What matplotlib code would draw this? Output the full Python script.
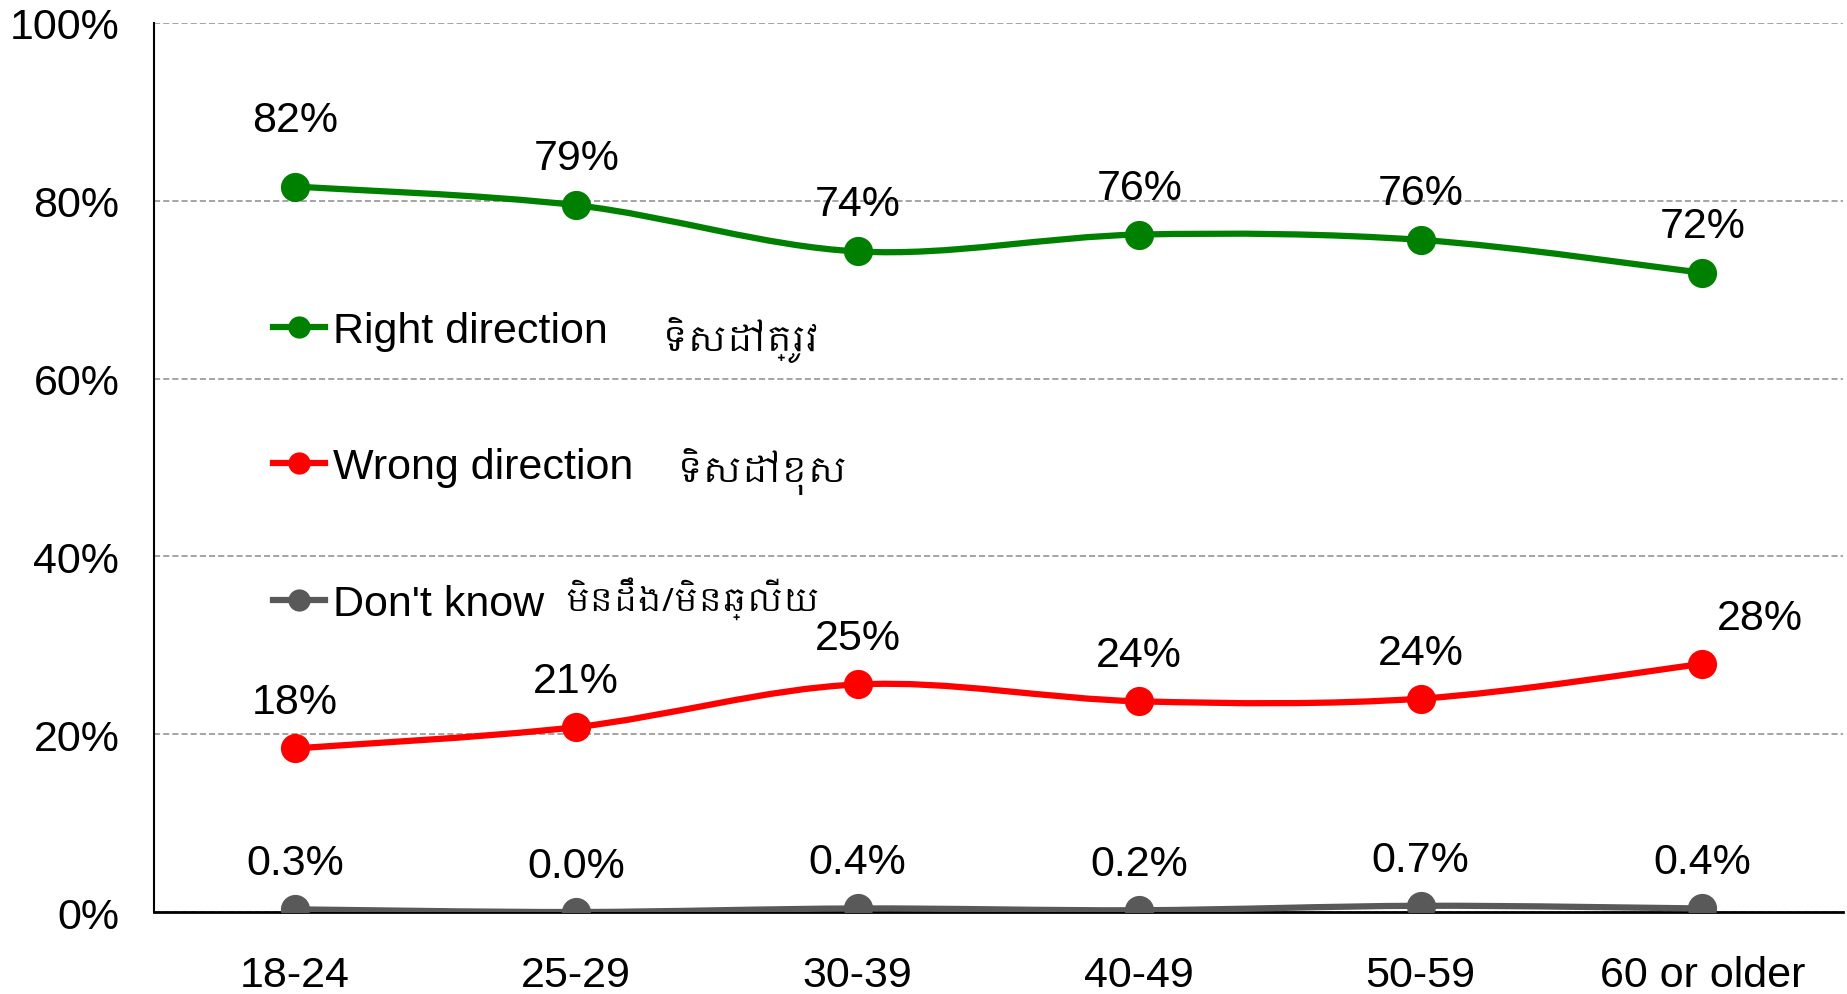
import numpy as np
import matplotlib
matplotlib.use("Agg")
import matplotlib.pyplot as plt
from matplotlib import font_manager
from matplotlib.path import Path
from matplotlib.patches import PathPatch
from matplotlib.lines import Line2D

categories = ["18-24", "25-29", "30-39", "40-49", "50-59", "60 or older"]
right_vals = [81.6, 79.5, 74.3, 76.2, 75.6, 71.9]
wrong_vals = [18.4, 20.8, 25.6, 23.7, 24.0, 27.9]
dk_vals = [0.3, 0.0, 0.4, 0.2, 0.7, 0.4]
right_labels = ["82%", "79%", "74%", "76%", "76%", "72%"]
wrong_labels = ["18%", "21%", "25%", "24%", "24%", "28%"]
dk_labels = ["0.3%", "0.0%", "0.4%", "0.2%", "0.7%", "0.4%"]
series_names = ["Right direction", "Wrong direction", "Don't know"]
khmer_names = ["ទិសដៅត្រូវ", "ទិសដៅខុស", "មិនដឹង/មិនឆ្លើយ"]
yticks = [0, 20, 40, 60, 80, 100]

# pick a Khmer font if the sandbox has one
khmer_font = None
for f in font_manager.fontManager.ttflist:
    if "khmer" in f.name.lower():
        khmer_font = f.name
        break
khmer_family = [khmer_font, "DejaVu Sans"] if khmer_font else ["DejaVu Sans"]

plt.rcParams["font.family"] = ["Liberation Sans", "DejaVu Sans"]
FS = 31


def smooth_path(xs, ys):
    # Excel-like smoothed line: catmull-rom segments as cubic beziers
    pts = np.column_stack([xs, ys]).astype(float)
    n = len(pts)
    verts = [pts[0]]
    codes = [Path.MOVETO]
    for i in range(n - 1):
        p0 = pts[i - 1] if i > 0 else pts[i]
        p1 = pts[i]
        p2 = pts[i + 1]
        p3 = pts[i + 2] if i + 2 < n else pts[i + 1]
        c1 = p1 + (p2 - p0) / 6.0
        c2 = p2 - (p3 - p1) / 6.0
        verts += [c1, c2, p2]
        codes += [Path.CURVE4] * 3
    return Path(verts, codes)


fig = plt.figure(figsize=(18.47, 9.95), dpi=100)
ax = fig.add_axes([0.0834, 0.0824, 0.9144, 0.8935])

x = np.arange(len(categories))
colors = ["#008000", "#ff0000", "#595959"]
series = [right_vals, wrong_vals, dk_vals]

for vals, col in zip(series, colors):
    patch = PathPatch(smooth_path(x, vals), facecolor="none", edgecolor=col,
                      lw=4.5, zorder=3, capstyle="round", joinstyle="round")
    ax.add_patch(patch)
    ax.plot(x, vals, linestyle="none", marker="o", ms=20, color=col, zorder=4)

for i in range(len(categories)):
    dy = 67 if i == 0 else 47
    ax.annotate(right_labels[i], (x[i], right_vals[i]), xytext=(0, dy),
                textcoords="offset pixels", ha="center", va="center", fontsize=FS)
    dx = 58 if i == len(categories) - 1 else 0
    ax.annotate(wrong_labels[i], (x[i], wrong_vals[i]), xytext=(dx, 46),
                textcoords="offset pixels", ha="center", va="center", fontsize=FS)
    ax.annotate(dk_labels[i], (x[i], dk_vals[i]), xytext=(0, 46),
                textcoords="offset pixels", ha="center", va="center", fontsize=FS)

ax.set_xlim(-0.5, len(categories) - 0.5)
ax.set_ylim(0, 100)
ax.set_yticks(yticks)
ax.set_yticklabels([f"{t}%" for t in yticks], fontsize=FS)
ax.set_xticks(x)
ax.set_xticklabels(categories, fontsize=FS)
ax.tick_params(axis="y", length=0, pad=25)
ax.tick_params(axis="x", length=0, pad=31)
ax.yaxis.grid(True, color="#8c8c8c", linestyle=(0, (4, 2)), lw=1.1)
ax.set_axisbelow(True)
for s in ["top", "right"]:
    ax.spines[s].set_visible(False)
ax.spines["left"].set_linewidth(1.5)
ax.spines["bottom"].set_linewidth(2)

handles = [Line2D([], [], color=c, lw=4.5, marker="o", ms=15) for c in colors]
leg = ax.legend(handles, series_names, loc="center left",
                bbox_to_anchor=(0.0704, 0.50), frameon=False, fontsize=FS,
                handlelength=1.2, handletextpad=0.2, labelspacing=2.25,
                borderaxespad=0, borderpad=0)

khmer_x = [0.3006, 0.3096, 0.2434]
khmer_y = [0.645, 0.497, 0.354]
khmer_size = [25, 25, 23]
for kx, ky, ks, txt in zip(khmer_x, khmer_y, khmer_size, khmer_names):
    ax.text(kx, ky, txt, transform=ax.transAxes, fontsize=ks,
            family=khmer_family, ha="left", va="center")

fig.savefig("out.png", dpi=100, facecolor="white")
